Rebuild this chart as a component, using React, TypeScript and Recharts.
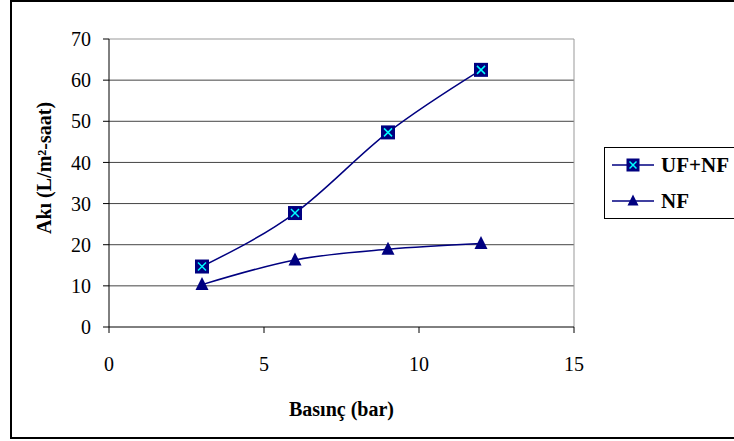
import {
  LineChart,
  Line,
  XAxis,
  YAxis,
  CartesianGrid,
  ReferenceLine,
  Label,
} from "recharts";

const pressure = [3, 6, 9, 12];
const ufNfFlux = [14.7, 27.7, 47.3, 62.5];
const nfFlux = [10.3, 16.3, 18.9, 20.3];
const xTicks = [0, 5, 10, 15];
const yTicks = [0, 10, 20, 30, 40, 50, 60, 70];

const data = pressure.map((p, i) => ({ p, ufnf: ufNfFlux[i], nf: nfFlux[i] }));

const NAVY = "#000080";
const FONT = "Liberation Serif, DejaVu Serif, serif";

const SquareX = ({ cx, cy, size = 14 }: any) => {
  if (cx == null || cy == null) return null;
  const h = size / 2;
  const d = h - 3;
  return (
    <g>
      <rect x={cx - h} y={cy - h} width={size} height={size} fill={NAVY} />
      <line x1={cx - d} y1={cy - d} x2={cx + d} y2={cy + d} stroke="#00ffff" strokeWidth={1.5} />
      <line x1={cx - d} y1={cy + d} x2={cx + d} y2={cy - d} stroke="#00ffff" strokeWidth={1.5} />
    </g>
  );
};

const Triangle = ({ cx, cy, size = 13 }: any) => {
  if (cx == null || cy == null) return null;
  const h = size / 2;
  return (
    <polygon
      points={`${cx},${cy - h - 1} ${cx - h},${cy + h - 1} ${cx + h},${cy + h - 1}`}
      fill={NAVY}
    />
  );
};

const legendRows = [
  { name: "UF+NF", Marker: SquareX },
  { name: "NF", Marker: Triangle },
];

const ChartLegend = () => (
  <div
    style={{
      position: "absolute",
      left: 604,
      top: 147,
      width: 140,
      height: 70,
      border: "1px solid #000",
      background: "#fff",
      fontFamily: FONT,
      fontWeight: "bold",
      fontSize: 21,
    }}
  >
    {legendRows.map(({ name, Marker }, i) => (
      <div
        key={name}
        style={{ position: "absolute", left: 6, top: 3 + i * 36, height: 28, display: "flex", alignItems: "center" }}
      >
        <svg width={44} height={28}>
          <line x1={1} y1={14} x2={43} y2={14} stroke={NAVY} strokeWidth={1.5} />
          <Marker cx={22} cy={14} size={i === 0 ? 13 : 11} />
        </svg>
        <span style={{ marginLeft: 6 }}>{name}</span>
      </div>
    ))}
  </div>
);

export default function App() {
  return (
    <div style={{ position: "absolute", left: 0, top: 0, width: 734, height: 441, background: "#fff", overflow: "hidden" }}>
      <div
        style={{
          position: "absolute",
          left: 10,
          top: 0,
          width: 740,
          height: 435,
          border: "2px solid #000",
        }}
      />
      <div style={{ position: "absolute", left: 0, top: 0 }}>
        <LineChart
          width={734}
          height={441}
          data={data}
          margin={{ top: 39, right: 160, bottom: 24, left: 49 }}
          style={{ fontFamily: FONT }}
        >
          <CartesianGrid vertical={false} stroke="#444" horizontalValues={yTicks.slice(1, -1)} />
          <ReferenceLine y={70} stroke="#999" />
          <ReferenceLine x={15} stroke="#999" />
          <XAxis
            dataKey="p"
            type="number"
            domain={[0, 15]}
            ticks={xTicks}
            interval={0}
            height={90}
            tickSize={6}
            tickMargin={24}
            stroke="#000"
            tick={{ fill: "#000", fontSize: 20, fontFamily: FONT }}
          >
            <Label
              value="Basınç (bar)"
              position="insideBottom"
              offset={1}
              style={{ fontSize: 20, fontWeight: "bold", fill: "#000", fontFamily: FONT }}
            />
          </XAxis>
          <YAxis
            type="number"
            domain={[0, 70]}
            ticks={yTicks}
            interval={0}
            width={60}
            tickSize={6}
            tickMargin={12}
            stroke="#000"
            tick={{ fill: "#000", fontSize: 20, fontFamily: FONT }}
          >
            <Label
              content={() => (
                <text
                  x={44}
                  y={168}
                  transform="rotate(-90 44 168)"
                  textAnchor="middle"
                  dominantBaseline="central"
                  style={{ fontSize: 20, fontWeight: "bold", fill: "#000", fontFamily: FONT }}
                >
                  Akı (L/m²-saat)
                </text>
              )}
            />
          </YAxis>
          <Line
            type="monotone"
            dataKey="ufnf"
            name="UF+NF"
            stroke={NAVY}
            strokeWidth={1.5}
            dot={<SquareX />}
            activeDot={false}
            isAnimationActive={false}
          />
          <Line
            type="monotone"
            dataKey="nf"
            name="NF"
            stroke={NAVY}
            strokeWidth={1.5}
            dot={<Triangle />}
            activeDot={false}
            isAnimationActive={false}
          />
        </LineChart>
      </div>
      <ChartLegend />
    </div>
  );
}
